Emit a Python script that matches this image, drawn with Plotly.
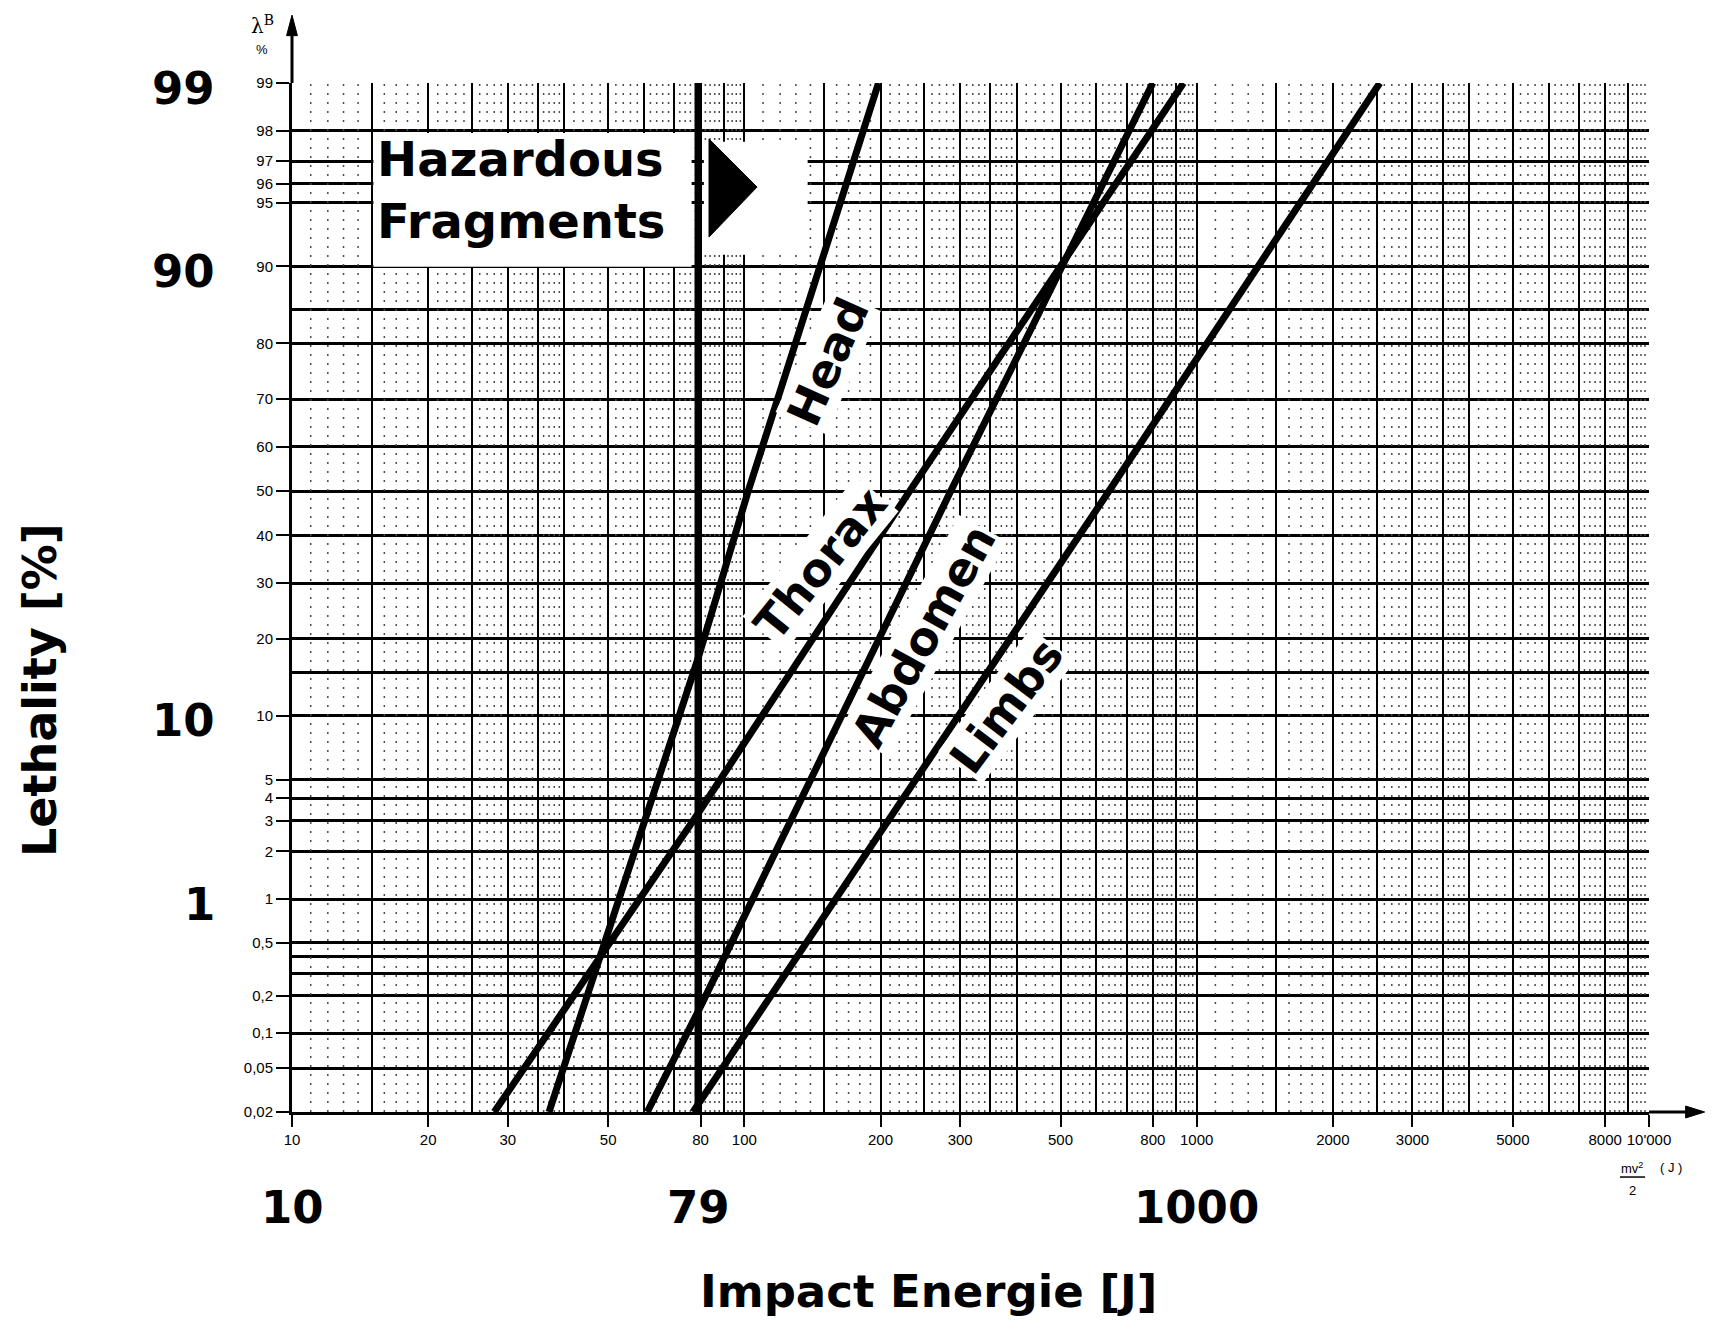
import math
import statistics
import plotly.graph_objects as go

# ---------------- data ----------------
LETHALITY_TICKS = [99, 98, 97, 96, 95, 90, 80, 70, 60, 50, 40, 30, 20, 10,
                   5, 4, 3, 2, 1, 0.5, 0.2, 0.1, 0.05, 0.02]
LETHALITY_TICK_TEXT = ["99", "98", "97", "96", "95", "90", "80", "70", "60", "50",
                       "40", "30", "20", "10", "5", "4", "3", "2", "1", "0,5",
                       "0,2", "0,1", "0,05", "0,02"]
LETHALITY_EXTRA_LINES = [85, 15, 0.4, 0.3]

ENERGY_TICKS = [10, 20, 30, 50, 80, 100, 200, 300, 500, 800, 1000, 2000, 3000,
                5000, 8000, 10000]
ENERGY_TICK_TEXT = ["10", "20", "30", "50", "80", "100", "200", "300", "500", "800",
                    "1000", "2000", "3000", "5000", "8000", "10'000"]
ENERGY_EXTRA_LINES = [15, 25, 35, 40, 60, 70, 90, 150, 250, 350, 400, 600, 700,
                      900, 1500, 2500, 3500, 4000, 6000, 7000, 9000]
FINE_BASE = [11, 12, 13, 14, 16, 17, 18, 19, 21, 22, 23, 24, 26, 27, 28, 29,
             31, 32, 33, 34, 36, 37, 38, 39, 42, 44, 46, 48, 52, 54, 56, 58,
             62, 64, 66, 68, 72, 74, 76, 78, 82, 84, 86, 88, 92, 94, 96, 98]

BIG_LETHALITY_LABELS = [99, 90, 10, 1]
BIG_ENERGY_LABELS = [10, 79, 1000]

HAZARD_ENERGY = [79, 79]
HAZARD_LETHALITY = [0.02, 99]

HEAD_ENERGY = [37, 79, 102, 198]
HEAD_LETHALITY = [0.02, 17, 50, 99]

THORAX_ENERGY = [28, 79, 232, 935]
THORAX_LETHALITY = [0.02, 3.3, 50, 99]

ABDOMEN_ENERGY = [61, 79, 286, 800]
ABDOMEN_LETHALITY = [0.02, 0.15, 50, 99]

LIMBS_ENERGY = [77, 240, 640, 2540]
LIMBS_LETHALITY = [0.02, 5, 50, 99]

# ---------------- helpers ----------------
_nd = statistics.NormalDist()


def probit(p):
    return _nd.inv_cdf(p / 100.0)


Y_MIN = probit(0.02)
Y_MAX = probit(99)

BIG_FONT = "DejaVu Sans"
SMALL_FONT = "Liberation Sans"

fig = go.Figure()

# fine dotted texture of the probability paper
fine = [b * m for m in (1, 10, 100) for b in FINE_BASE]
tx, ty = [], []
for v in fine:
    tx += [v, v, None]
    ty += [Y_MIN, Y_MAX, None]
fig.add_trace(go.Scatter(x=tx, y=ty, mode="lines", hoverinfo="skip",
                         line=dict(color="#4a4a4a", width=1.5, dash="2px,7px"),
                         showlegend=False))

# lethality curves
series = [
    (HAZARD_ENERGY, HAZARD_LETHALITY),
    (HEAD_ENERGY, HEAD_LETHALITY),
    (THORAX_ENERGY, THORAX_LETHALITY),
    (ABDOMEN_ENERGY, ABDOMEN_LETHALITY),
    (LIMBS_ENERGY, LIMBS_LETHALITY),
]
for ex, ly in series:
    fig.add_trace(go.Scatter(x=ex, y=[probit(v) for v in ly], mode="lines",
                             line=dict(color="black", width=7),
                             cliponaxis=False, showlegend=False,
                             hoverinfo="skip"))

# ---------------- axes ----------------
fig.update_xaxes(
    type="log", range=[1, 4], automargin=False,
    tickvals=ENERGY_TICKS, ticktext=ENERGY_TICK_TEXT, tickangle=0,
    ticks="outside", ticklen=12, tickwidth=2, tickcolor="black",
    tickfont=dict(family=SMALL_FONT, size=15, color="black"),
    showgrid=True, gridcolor="black", gridwidth=2,
    showline=True, linecolor="black", linewidth=3,
    zeroline=False,
    minor=dict(tickvals=ENERGY_EXTRA_LINES, showgrid=True, gridcolor="black",
               gridwidth=1.6, ticks=""),
)
fig.update_yaxes(
    range=[Y_MIN, Y_MAX], automargin=False,
    tickvals=[probit(v) for v in LETHALITY_TICKS], ticktext=LETHALITY_TICK_TEXT,
    ticks="outside", ticklen=13, tickwidth=2, tickcolor="black",
    tickfont=dict(family=SMALL_FONT, size=15, color="black"),
    showgrid=True, gridcolor="black", gridwidth=2.5,
    showline=True, linecolor="black", linewidth=3,
    zeroline=False,
    minor=dict(tickvals=[probit(v) for v in LETHALITY_EXTRA_LINES], showgrid=True,
               gridcolor="black", gridwidth=2.5, ticks=""),
)

# ---------------- decorations ----------------
shapes = [
    # white box behind "Hazardous Fragments"
    dict(type="rect", xref="paper", yref="paper", x0=0.060, x1=0.2945,
         y0=0.8215, y1=0.9515, fillcolor="white", line=dict(width=0), layer="above"),
    # white box around the arrow
    dict(type="rect", xref="paper", yref="paper", x0=0.3035, x1=0.3800,
         y0=0.8330, y1=0.9430, fillcolor="white", line=dict(width=0), layer="above"),
    # arrow triangle
    dict(type="path", xref="paper", yref="paper",
         path="M 0.3073 0.9456 L 0.3427 0.8989 L 0.3073 0.8503 Z",
         fillcolor="black", line=dict(color="black", width=1), layer="above"),
    # y axis extension + arrow head
    dict(type="line", xref="paper", yref="paper", x0=0.0, x1=0.0, y0=1.0, y1=1.05,
         line=dict(color="black", width=3)),
    dict(type="path", xref="paper", yref="paper",
         path="M -0.0040 1.046 L 0.0 1.066 L 0.0040 1.046 Z",
         fillcolor="black", line=dict(color="black", width=1)),
    # x axis extension + arrow head
    dict(type="line", xref="paper", yref="paper", x0=1.0, x1=1.030, y0=0.0, y1=0.0,
         line=dict(color="black", width=3)),
    dict(type="path", xref="paper", yref="paper",
         path="M 1.027 0.0058 L 1.041 0.0 L 1.027 -0.0058 Z",
         fillcolor="black", line=dict(color="black", width=1)),
    # fraction bar of mv^2/2
    dict(type="line", xref="paper", yref="paper", x0=0.9786, x1=0.9971,
         y0=-0.0632, y1=-0.0632, line=dict(color="black", width=1.5)),
]
fig.update_layout(shapes=shapes)


def A(**kw):
    kw.setdefault("showarrow", False)
    kw.setdefault("xanchor", "center")
    kw.setdefault("yanchor", "middle")
    return kw


ann = []
# lambda / % unit on top of y axis
ann.append(A(xref="paper", yref="paper", x=-0.022, y=1.0565,
             text="λ<sup>B</sup>",
             font=dict(family="DejaVu Serif", size=20, color="black")))
ann.append(A(xref="paper", yref="paper", x=-0.022, y=1.033,
             text="%", font=dict(family=SMALL_FONT, size=13, color="black")))

# mv^2/2 (J)
ann.append(A(xref="paper", yref="paper", x=0.9878, y=-0.054,
             text="mv<sup>2</sup>",
             font=dict(family=SMALL_FONT, size=13, color="black")))
ann.append(A(xref="paper", yref="paper", x=0.9878, y=-0.076,
             text="2", font=dict(family=SMALL_FONT, size=13, color="black")))
ann.append(A(xref="paper", yref="paper", x=1.0165, y=-0.0535,
             text="( J )", font=dict(family=SMALL_FONT, size=13, color="black")))

# big y labels
for v in BIG_LETHALITY_LABELS:
    ann.append(A(xref="paper", yref="y", x=-0.055, y=probit(v), yshift=-5,
                 xanchor="right", text="<b>%g</b>" % v,
                 font=dict(family=BIG_FONT, size=45, color="black")))
# big x labels
for v in BIG_ENERGY_LABELS:
    ann.append(A(xref="x", yref="paper", x=math.log10(v), y=-0.093,
                 text="<b>%g</b>" % v,
                 font=dict(family=BIG_FONT, size=45, color="black")))

# axis titles
ann.append(A(xref="paper", yref="paper", x=0.4687, y=-0.174,
             text="<b>Impact Energie [J]</b>",
             font=dict(family=BIG_FONT, size=45, color="black")))
ann.append(A(xref="paper", yref="paper", x=-0.1857, y=0.41, textangle=-90,
             text="<b>Lethality [%]</b>",
             font=dict(family=BIG_FONT, size=46, color="black")))

# Hazardous Fragments
ann.append(A(xref="paper", yref="paper", x=0.061, y=0.896,
             xanchor="left", align="left",
             text="<b>Hazardous<br>Fragments</b>",
             font=dict(family=BIG_FONT, size=48, color="black")))

# curve labels
for txt, lx, ly, ang in [("Head", 2.186, 0.741, -66),
                         ("Thorax", 2.168, -0.415, -51),
                         ("Abdomen", 2.396, -0.825, -61),
                         ("Limbs", 2.580, -1.226, -53)]:
    ann.append(A(xref="x", yref="y", x=lx, y=ly, text="<b>%s</b>" % txt,
                 textangle=ang, bgcolor="white", borderpad=0,
                 font=dict(family=BIG_FONT, size=46, color="black")))

# page body has an 8px margin: the figure is sized to fit inside the window
fig.update_layout(
    annotations=ann,
    width=1701, height=1313,
    margin=dict(l=284, r=60, t=75, b=209, autoexpand=False),
    paper_bgcolor="white", plot_bgcolor="white",
    showlegend=False,
)

fig.write_html("out.html")
